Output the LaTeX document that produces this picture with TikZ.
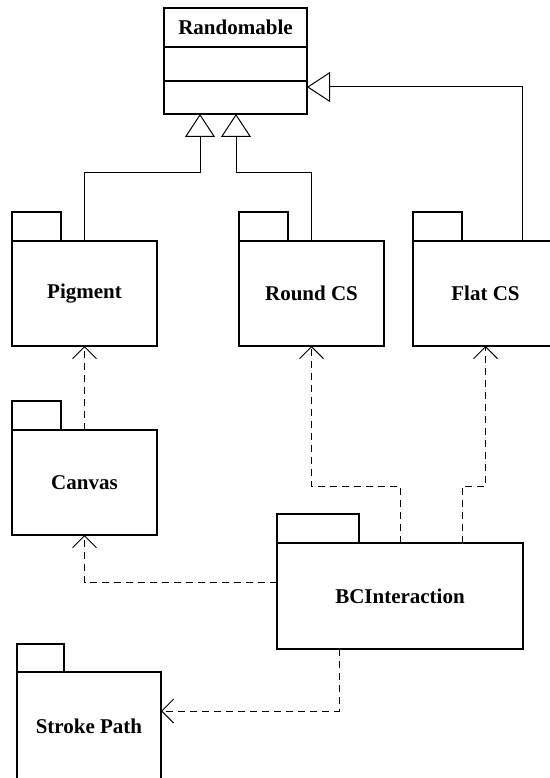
\documentclass[tikz,border=0pt]{standalone}
\usepackage{fontspec}
\setmainfont{Liberation Serif}
\usetikzlibrary{arrows.meta}
\begin{document}
\begin{tikzpicture}[x=1pt,y=-1pt,
  box/.style={draw, line width=1.8pt, inner sep=0pt, outer sep=0pt},
  pkgbody/.style={box, anchor=north west, minimum width=145pt, minimum height=105pt, font=\bfseries\fontsize{21}{25}\selectfont},
  pkgtab/.style={box, anchor=south west, minimum width=49pt, minimum height=29pt},
  lbl/.style={font=\bfseries\fontsize{21}{25}\selectfont, inner sep=0pt},
  gen/.style={line width=1pt, -{Triangle[open,length=23pt,width=30pt]}},
  dep/.style={line width=1pt, dash pattern=on 7pt off 5pt, -{Straight Barb[length=12pt,width=24pt]}},
]
\useasboundingbox (0,0) rectangle (549,778);
\fill[white] (0,0) rectangle (549,778);

% class Randomable
\node[box, anchor=north west, minimum width=143pt, minimum height=106pt] (rand) at (164,8) {};
\node[lbl] (randname) at (235.5,27.5) {Randomable};
\draw[line width=1.8pt] ([yshift=-39pt]rand.north west) -- ([yshift=-39pt]rand.north east);
\draw[line width=1.8pt] ([yshift=-73pt]rand.north west) -- ([yshift=-73pt]rand.north east);

% packages
\node[pkgbody] (pig) at (12,241) {Pigment};
\node[pkgtab] (pigtab) at (pig.north west) {};
\node[pkgbody] (rc) at (239,241) {Round CS};
\node[pkgtab] (rctab) at (rc.north west) {};
\node[pkgbody] (fc) at (413,241) {Flat CS};
\node[pkgtab] (fctab) at (fc.north west) {};
\node[pkgbody] (can) at (12,430) {Canvas};
\node[pkgtab] (cantab) at (can.north west) {};
\node[pkgbody, minimum width=246pt, minimum height=106pt] (bc) at (277,543) {BCInteraction};
\node[pkgtab, minimum width=82pt] (bctab) at (bc.north west) {};
\node[pkgbody, minimum width=144pt, minimum height=108pt] (sp) at (17,672) {Stroke Path};
\node[pkgtab, minimum width=47pt, minimum height=28pt] (sptab) at (sp.north west) {};

% generalizations
\draw[gen] (pig.north) -- ++(0,-68) -| ([xshift=-35.5pt]rand.south);
\draw[gen] (rc.north) -- ++(0,-68) -| ([xshift=0.5pt]rand.south);
\draw[gen] ([xshift=36.5pt]fc.north) |- ([yshift=-26pt]rand.east);

% dependencies
\draw[dep] (can.north) -- (pig.south);
\draw[dep] (bc.north) -- ++(0,-57) -| (rc.south);
\draw[dep] ([xshift=62pt]bc.north) -- ++(0,-57) -| (fc.south);
\draw[dep] ([yshift=14pt]bc.west) -| (can.south);
\draw[dep] ([xshift=-61pt]bc.south) |- ([yshift=15pt]sp.east);
\end{tikzpicture}
\end{document}
